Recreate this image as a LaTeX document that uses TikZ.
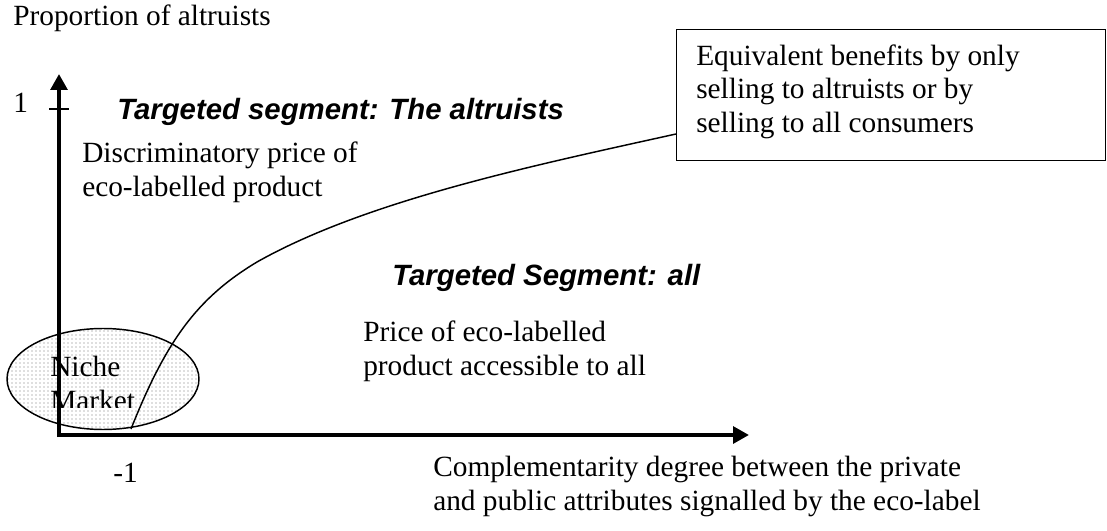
\documentclass[tikz,border=0pt]{standalone}
\usepackage{fontspec}
\setmainfont{Liberation Serif}
\setsansfont{Liberation Sans}
\usetikzlibrary{arrows.meta,patterns,shapes.geometric}

% multi-line text nodes are placed by the baseline of their last line
\tikzset{
  txt/.style={inner sep=0pt, anchor=base west, align=left,
              font=\fontsize{22}{25.5}\selectfont},
  head/.style={inner sep=0pt, anchor=base west,
               font=\fontsize{22}{25.5}\selectfont\sffamily\bfseries\itshape},
  axis/.style={line width=3pt, -{Triangle[length=12pt,width=12.5pt]}},
  thinline/.style={line width=1.1pt},
}

\begin{document}
\begin{tikzpicture}[x=0.75pt, y=-0.75pt]
\useasboundingbox (0,0) rectangle (1107,531);

% niche market region
\node[ellipse, draw, thinline, pattern=dots, pattern color=black!55,
      minimum width=192*0.75pt, minimum height=101*0.75pt, inner sep=0pt]
      (niche) at (103,379) {};
\begin{scope}
  \clip (0,300) rectangle (300,407);
  \node[txt] (nichetxt) at (50,410) {Niche\\Market};
\end{scope}

% axes
\coordinate (origin) at (59,435);
\coordinate (ytop) at (59,74);
\coordinate (xend) at (749,435);
\draw[axis] (59,437) -- (ytop);
\draw[axis] (57,435) -- (xend);
\draw[thinline] (49,109) -- (69,109);

% frontier between the two segments
\node[draw, thinline, anchor=north west, inner sep=0pt,
      minimum width=429*0.75pt, minimum height=131*0.75pt] (box) at (676,29) {};
\coordinate (curvestart) at (131,429);
\coordinate (curvemid) at (257,262);
\coordinate (curveend) at (676,134);
\draw[thinline] (curvestart) .. controls (166,341) and (197,298) .. (curvemid)
  .. controls (367,200) and (536,165) .. (curveend);

% labels
\node[txt] (ylabel) at (13,26) {Proportion of altruists};
\node[txt] (one) at (13,113) {1};
\node[txt] (minusone) at (113,482) {-1};
\node[head] (segalt) at (117,120) {Targeted segment: The altruists};
\node[txt] (discr) at (82,197) {Discriminatory price of\\eco-labelled product};
\node[head] (segall) at (392,285) {Targeted Segment: all};
\node[txt] (price) at (363,375) {Price of eco-labelled\\product accessible to all};
\node[txt] (xlabel) at (433,510) {Complementarity degree between the private\\and public attributes signalled by the eco-label};
\node[txt] (boxtxt) at (696,133) {Equivalent benefits by only\\selling to altruists or by\\selling to all consumers};
\end{tikzpicture}
\end{document}
